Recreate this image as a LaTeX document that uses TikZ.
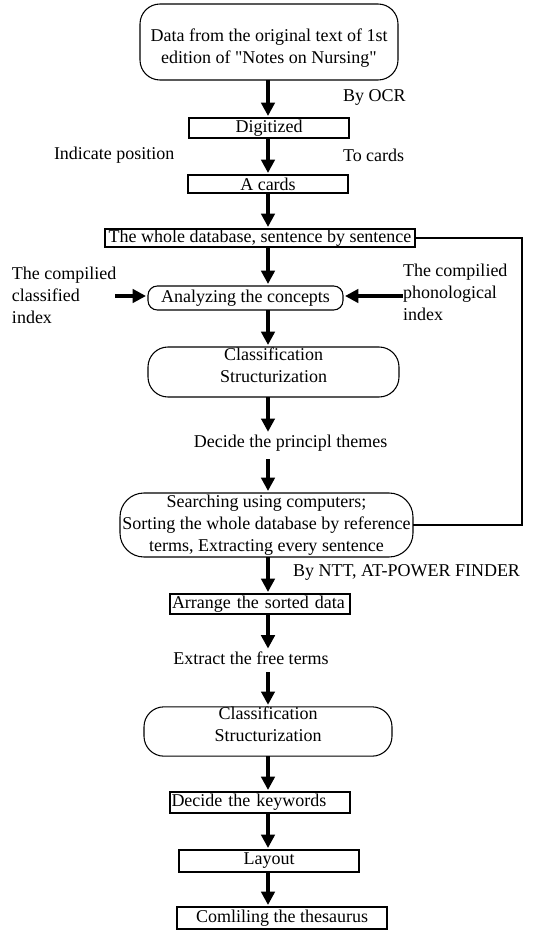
\documentclass[tikz,border=0pt]{standalone}
\usepackage{fontspec}
\setmainfont{Liberation Serif}[Ligatures=TeXOff]
\usetikzlibrary{arrows.meta,calc}
\newcommand{\dnstrut}[1]{\rule{0pt}{#1}}
\newcommand{\upstrut}[1]{\rule[-#1]{0pt}{0pt}}
\begin{document}
\begin{tikzpicture}[x=0.75pt,y=-0.75pt,
  every node/.style={font=\fontsize{13.5}{16.5}\selectfont, inner sep=0pt, outer sep=0pt},
  sz/.style 2 args={minimum width=#1*0.75pt, minimum height=#2*0.75pt},
  sqbox/.style={draw, line width=0.8pt, rectangle},
  rbox/.style={draw, line width=0.8pt, rectangle, rounded corners=15pt},
  arr/.style={line width=3pt, -{Triangle[width=10pt,length=10pt]}, shorten >=1.5pt},
  lab/.style={anchor=west}]
\useasboundingbox (0,0) rectangle (537,934);
% main boxes
\node[rbox, sz={258}{76}, align=center] (b1) at (269,42) {\dnstrut{19pt}Data from the original text of 1st\\edition of "Notes on Nursing"};
\node[sqbox, sz={160}{20}] (dig) at (269,128) {Digitized};
\node[sqbox, sz={160}{18}] (ac) at (268,184) {A cards};
\node[sqbox, sz={310}{18}] (db) at (260,238) {The whole database, sentence by sentence};
\node[draw, line width=0.8pt, rounded corners=7pt, sz={195}{24}] (an) at (245.5,298) {Analyzing the concepts};
\node[rbox, sz={251}{50}, align=center] (cl1) at (273.5,372) {Classification\\Structurization\upstrut{11pt}};
\node (t1) at (290.5,443) {Decide the principl themes};
\node[rbox, sz={293}{64}, align=center, rounded corners=18pt] (se) at (266.5,525) {Searching using computers;\\Sorting the whole database by reference\\terms, Extracting every sentence};
\node[sqbox, sz={180}{20}, text width=176*0.75pt, align=left] (ar) at (260,604) {Arrange the sorted data};
\node (t2) at (251,658) {Extract the free terms};
\node[rbox, sz={248}{49}, align=center] (cl2) at (268,731.5) {Classification\\Structurization\upstrut{11pt}};
\node[sqbox, sz={180}{21}, text width=177*0.75pt, align=left] (kw) at (260,802.5) {Decide the keywords};
\node[sqbox, sz={180}{22}] (lay) at (269,861) {Layout};
\node[sqbox, sz={210}{22}] (com) at (282,918) {Comliling the thesaurus};
% side labels
\node[lab] (ocr) at (343,97) {By OCR};
\node[lab] (ip) at (54,155) {Indicate position};
\node[lab] (tc) at (343,155) {To cards};
\node[lab] (ntt) at (293,572) {By NTT, AT-POWER FINDER};
\node[anchor=north west, align=left] (lt) at (12,267) {The compilied\\classified\\index};
\node[anchor=north west, align=left] (rt) at (403,264) {The compilied\\phonological\\index};
% column
\coordinate (cx) at (268,0);
\draw[arr] (b1.south -| cx) -- (dig.north -| cx);
\draw[arr] (dig.south -| cx) -- (ac.north -| cx);
\draw[arr] (ac.south -| cx) -- (db.north -| cx);
\draw[arr] (db.south -| cx) -- (an.north -| cx);
\draw[arr] (an.south -| cx) -- (cl1.north -| cx);
\draw[arr] (cl1.south -| cx) -- ($(t1.north -| cx)+(0,-1)$);
\draw[arr] ($(t1.south -| cx)+(0,8)$) -- (se.north -| cx);
\draw[arr] (se.south -| cx) -- (ar.north -| cx);
\draw[arr] (ar.south -| cx) -- ($(t2.north -| cx)+(0,-1)$);
\draw[arr] ($(t2.south -| cx)+(0,8)$) -- (cl2.north -| cx);
\draw[arr] (cl2.south -| cx) -- (kw.north -| cx);
\draw[arr] (kw.south -| cx) -- (lay.north -| cx);
\draw[arr] (lay.south -| cx) -- (com.north -| cx);
% side arrows
\draw[arr] (115,296) -- (an.west |- 0,296);
\draw[arr] (rt.west |- 0,296) -- (an.east |- 0,296);
% loop line
\draw[line width=0.8pt] (db.east) -- (522,238) |- (se.east);
\end{tikzpicture}
\end{document}
